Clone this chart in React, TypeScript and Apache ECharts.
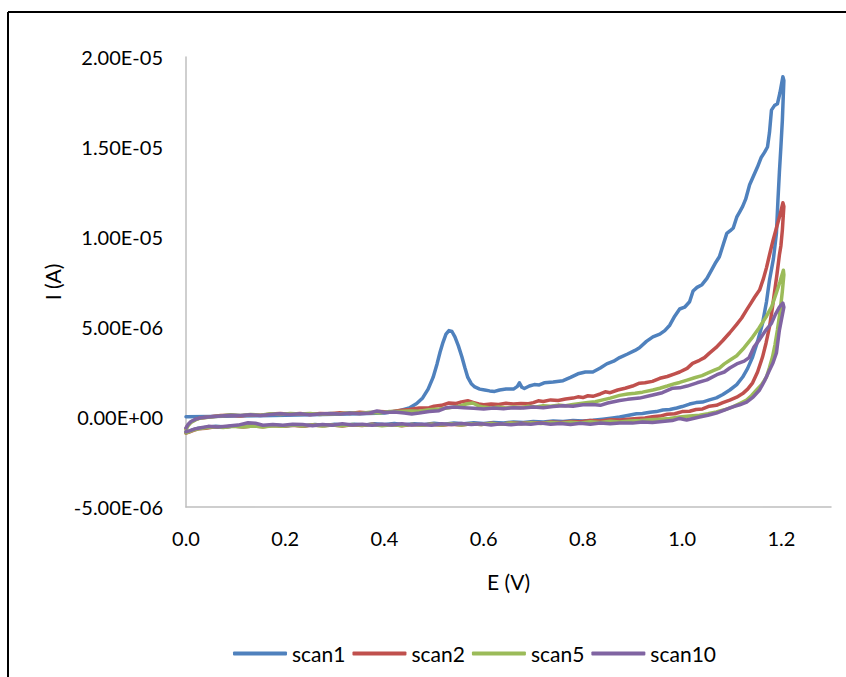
import React, { useEffect, useRef } from "react";
import * as echarts from "echarts";

// Cyclic voltammetry scans: [potential E (V), current I (µA)], forward sweep then reverse sweep.
const scan1Forward: [number, number][] = [
  [0.0, 0.02], [0.05, 0.03], [0.1, 0.05], [0.15, 0.07], [0.2, 0.1], [0.25, 0.12], [0.3, 0.15],
  [0.35, 0.18], [0.4, 0.22], [0.43, 0.35], [0.45, 0.5], [0.465, 0.75], [0.477, 1.06], [0.488, 1.55],
  [0.498, 2.2], [0.506, 2.95], [0.512, 3.6], [0.518, 4.15], [0.524, 4.6], [0.53, 4.8], [0.536, 4.75],
  [0.542, 4.45], [0.549, 3.95], [0.556, 3.35], [0.562, 2.75], [0.568, 2.2], [0.575, 1.85],
  [0.582, 1.67], [0.592, 1.55], [0.602, 1.5], [0.612, 1.45], [0.622, 1.42], [0.632, 1.5],
  [0.645, 1.55], [0.66, 1.55], [0.668, 1.7], [0.672, 1.9], [0.677, 1.65], [0.682, 1.58],
  [0.692, 1.72], [0.702, 1.8], [0.712, 1.78], [0.722, 1.9], [0.74, 1.95], [0.76, 2.02],
  [0.775, 2.2], [0.79, 2.4], [0.805, 2.5], [0.82, 2.5], [0.835, 2.72], [0.848, 2.95], [0.862, 3.1],
  [0.874, 3.3], [0.89, 3.5], [0.905, 3.7], [0.914, 3.85], [0.928, 4.2], [0.941, 4.45], [0.955, 4.6],
  [0.965, 4.8], [0.975, 5.1], [0.985, 5.6], [0.995, 6.0], [1.005, 6.1], [1.015, 6.4], [1.022, 7.0],
  [1.03, 7.2], [1.04, 7.35], [1.05, 7.7], [1.06, 8.2], [1.068, 8.6], [1.075, 8.9], [1.083, 9.6],
  [1.09, 10.2], [1.097, 10.35], [1.103, 10.5], [1.11, 11.1], [1.116, 11.4], [1.122, 11.7],
  [1.128, 12.1], [1.136, 12.9], [1.144, 13.4], [1.152, 13.9], [1.159, 14.4], [1.166, 14.7],
  [1.172, 15.0], [1.176, 15.8], [1.18, 17.05], [1.186, 17.3], [1.192, 17.4], [1.197, 18.0],
  [1.203, 18.9],
];
const scan1Reverse: [number, number][] = [
  [1.205, 18.7], [1.202, 16.5], [1.199, 15.0], [1.196, 13.6], [1.193, 12.0], [1.19, 10.2],
  [1.184, 8.8], [1.176, 7.6], [1.17, 6.4], [1.162, 5.2], [1.152, 4.2], [1.142, 3.33], [1.132, 2.7],
  [1.122, 2.22], [1.11, 1.8], [1.096, 1.5], [1.082, 1.25], [1.069, 1.06], [1.055, 0.95],
  [1.041, 0.83], [1.028, 0.8], [1.015, 0.72], [1.0, 0.58], [0.989, 0.5], [0.975, 0.42],
  [0.961, 0.39], [0.948, 0.3], [0.935, 0.26], [0.92, 0.2], [0.908, 0.18], [0.89, 0.08],
  [0.874, 0.0], [0.86, -0.05], [0.84, -0.12], [0.82, -0.18], [0.8, -0.22], [0.78, -0.2],
  [0.76, -0.25], [0.74, -0.22], [0.72, -0.28], [0.7, -0.25], [0.68, -0.3], [0.66, -0.28],
  [0.64, -0.33], [0.62, -0.3], [0.6, -0.36], [0.58, -0.32], [0.56, -0.38], [0.54, -0.33],
  [0.52, -0.4], [0.5, -0.35], [0.48, -0.42], [0.46, -0.38], [0.44, -0.43], [0.42, -0.36],
  [0.4, -0.42], [0.38, -0.38], [0.36, -0.44], [0.34, -0.4], [0.32, -0.45], [0.3, -0.4],
  [0.28, -0.47], [0.26, -0.42], [0.24, -0.48], [0.22, -0.44], [0.2, -0.5], [0.18, -0.45],
  [0.16, -0.5], [0.14, -0.47], [0.12, -0.52], [0.1, -0.48], [0.08, -0.55], [0.06, -0.52],
  [0.04, -0.58], [0.025, -0.62], [0.015, -0.7], [0.006, -0.8], [0.0, -0.85],
];

const scan2Forward: [number, number][] = [
  [0.0, -0.65], [0.004, -0.45], [0.01, -0.28], [0.02, -0.12], [0.03, -0.05], [0.05, 0.02],
  [0.07, 0.08], [0.09, 0.1], [0.11, 0.06], [0.13, 0.12], [0.15, 0.1], [0.17, 0.16], [0.19, 0.2],
  [0.21, 0.15], [0.23, 0.2], [0.25, 0.14], [0.27, 0.2], [0.29, 0.18], [0.31, 0.24], [0.33, 0.2],
  [0.35, 0.26], [0.37, 0.22], [0.39, 0.3], [0.41, 0.28], [0.43, 0.36], [0.45, 0.42], [0.47, 0.5],
  [0.49, 0.52], [0.5, 0.6], [0.515, 0.65], [0.53, 0.78], [0.545, 0.75], [0.555, 0.84],
  [0.568, 0.9], [0.58, 0.8], [0.59, 0.72], [0.6, 0.68], [0.615, 0.72], [0.63, 0.7], [0.645, 0.76],
  [0.66, 0.72], [0.675, 0.75], [0.69, 0.74], [0.7, 0.8], [0.71, 0.9], [0.72, 0.86], [0.735, 0.95],
  [0.75, 0.92], [0.765, 1.0], [0.78, 1.05], [0.79, 1.12], [0.8, 1.08], [0.81, 1.18], [0.82, 1.15],
  [0.835, 1.28], [0.845, 1.4], [0.855, 1.35], [0.87, 1.5], [0.885, 1.6], [0.9, 1.72],
  [0.914, 1.88], [0.925, 1.9], [0.94, 1.98], [0.955, 2.15], [0.97, 2.25], [0.985, 2.4],
  [0.995, 2.5], [1.01, 2.7], [1.021, 2.98], [1.035, 3.15], [1.045, 3.3], [1.055, 3.55],
  [1.068, 3.85], [1.082, 4.25], [1.096, 4.68], [1.11, 5.15], [1.12, 5.5], [1.13, 5.95],
  [1.138, 6.3], [1.146, 6.65], [1.156, 7.05], [1.164, 7.7], [1.17, 8.3], [1.176, 9.0],
  [1.183, 9.8], [1.19, 10.5], [1.197, 11.2], [1.203, 11.9],
];
const scan2Reverse: [number, number][] = [
  [1.205, 11.7], [1.202, 10.4], [1.199, 9.5], [1.196, 9.0], [1.191, 7.9], [1.186, 6.9],
  [1.181, 5.9], [1.176, 5.0], [1.169, 4.1], [1.162, 3.33], [1.152, 2.5], [1.142, 1.9],
  [1.132, 1.55], [1.122, 1.3], [1.11, 1.1], [1.096, 0.94], [1.082, 0.8], [1.069, 0.65],
  [1.055, 0.6], [1.041, 0.45], [1.028, 0.42], [1.015, 0.32], [1.0, 0.3], [0.985, 0.18],
  [0.97, 0.15], [0.955, 0.05], [0.94, 0.02], [0.925, -0.05], [0.91, -0.08], [0.89, -0.12],
  [0.874, -0.17], [0.855, -0.15], [0.835, -0.22], [0.815, -0.2], [0.795, -0.27], [0.775, -0.25],
  [0.755, -0.3], [0.735, -0.28], [0.715, -0.34], [0.695, -0.3], [0.675, -0.36], [0.655, -0.32],
  [0.635, -0.4], [0.615, -0.35], [0.595, -0.42], [0.575, -0.37], [0.555, -0.44], [0.535, -0.4],
  [0.515, -0.46], [0.495, -0.4], [0.475, -0.45], [0.455, -0.42], [0.435, -0.48], [0.415, -0.42],
  [0.395, -0.46], [0.375, -0.4], [0.355, -0.47], [0.335, -0.43], [0.315, -0.5], [0.295, -0.44],
  [0.275, -0.49], [0.255, -0.45], [0.235, -0.52], [0.215, -0.46], [0.195, -0.52], [0.175, -0.47],
  [0.155, -0.54], [0.135, -0.5], [0.115, -0.55], [0.095, -0.5], [0.075, -0.57], [0.055, -0.55],
  [0.04, -0.62], [0.025, -0.66], [0.015, -0.74], [0.006, -0.84], [0.0, -0.9],
];

const scan5Forward: [number, number][] = [
  [0.0, -0.7], [0.004, -0.5], [0.01, -0.3], [0.02, -0.15], [0.03, -0.05], [0.05, 0.0],
  [0.07, 0.05], [0.09, 0.12], [0.11, 0.08], [0.13, 0.14], [0.15, 0.1], [0.17, 0.18], [0.19, 0.14],
  [0.21, 0.2], [0.23, 0.16], [0.25, 0.2], [0.27, 0.14], [0.29, 0.2], [0.31, 0.18], [0.33, 0.24],
  [0.35, 0.2], [0.37, 0.26], [0.39, 0.22], [0.41, 0.3], [0.43, 0.3], [0.45, 0.34], [0.47, 0.32],
  [0.49, 0.4], [0.51, 0.45], [0.53, 0.52], [0.55, 0.6], [0.565, 0.72], [0.578, 0.78],
  [0.59, 0.62], [0.6, 0.55], [0.615, 0.5], [0.63, 0.55], [0.645, 0.5], [0.66, 0.56], [0.675, 0.52],
  [0.69, 0.6], [0.705, 0.56], [0.72, 0.62], [0.735, 0.6], [0.75, 0.66], [0.765, 0.63], [0.78, 0.7],
  [0.795, 0.75], [0.81, 0.8], [0.825, 0.85], [0.84, 0.95], [0.855, 1.05], [0.874, 1.2],
  [0.89, 1.28], [0.905, 1.32], [0.92, 1.38], [0.941, 1.5], [0.955, 1.6], [0.97, 1.72],
  [0.985, 1.85], [0.995, 1.92], [1.01, 2.05], [1.025, 2.18], [1.04, 2.3], [1.05, 2.42],
  [1.065, 2.6], [1.075, 2.72], [1.085, 2.95], [1.096, 3.15], [1.11, 3.4], [1.125, 3.85],
  [1.142, 4.44], [1.155, 4.95], [1.17, 5.6], [1.18, 6.1], [1.19, 6.9], [1.197, 7.5], [1.204, 8.15],
];
const scan5Reverse: [number, number][] = [
  [1.205, 7.9], [1.202, 7.0], [1.2, 6.5], [1.196, 5.6], [1.192, 4.83], [1.187, 4.0],
  [1.182, 3.33], [1.176, 2.75], [1.17, 2.22], [1.16, 1.8], [1.15, 1.5], [1.14, 1.2], [1.13, 0.94],
  [1.116, 0.75], [1.102, 0.56], [1.085, 0.4], [1.069, 0.28], [1.052, 0.18], [1.035, 0.1],
  [1.015, 0.05], [0.995, 0.0], [0.975, -0.08], [0.955, -0.12], [0.935, -0.15], [0.915, -0.2],
  [0.895, -0.22], [0.874, -0.28], [0.855, -0.24], [0.835, -0.31], [0.815, -0.27], [0.795, -0.33],
  [0.775, -0.29], [0.755, -0.35], [0.735, -0.3], [0.715, -0.36], [0.695, -0.32], [0.675, -0.38],
  [0.655, -0.33], [0.635, -0.4], [0.615, -0.36], [0.595, -0.42], [0.575, -0.38], [0.555, -0.45],
  [0.535, -0.38], [0.515, -0.44], [0.495, -0.4], [0.475, -0.46], [0.455, -0.41], [0.435, -0.47],
  [0.415, -0.43], [0.395, -0.48], [0.375, -0.42], [0.355, -0.46], [0.335, -0.42], [0.315, -0.49],
  [0.295, -0.45], [0.275, -0.5], [0.255, -0.44], [0.235, -0.5], [0.215, -0.45], [0.195, -0.51],
  [0.175, -0.48], [0.155, -0.55], [0.135, -0.5], [0.115, -0.56], [0.095, -0.52], [0.075, -0.58],
  [0.055, -0.54], [0.04, -0.6], [0.025, -0.65], [0.015, -0.72], [0.006, -0.82], [0.0, -0.88],
];

const scan10Forward: [number, number][] = [
  [0.0, -0.6], [0.004, -0.42], [0.01, -0.25], [0.02, -0.12], [0.03, -0.04], [0.05, 0.02],
  [0.07, 0.06], [0.09, 0.1], [0.11, 0.08], [0.13, 0.12], [0.15, 0.08], [0.17, 0.14], [0.19, 0.18],
  [0.21, 0.14], [0.23, 0.18], [0.25, 0.12], [0.27, 0.16], [0.29, 0.2], [0.31, 0.16], [0.33, 0.22],
  [0.35, 0.18], [0.37, 0.22], [0.385, 0.33], [0.4, 0.25], [0.42, 0.28], [0.44, 0.22],
  [0.455, 0.17], [0.47, 0.22], [0.49, 0.3], [0.51, 0.35], [0.525, 0.52], [0.54, 0.55],
  [0.56, 0.52], [0.58, 0.48], [0.6, 0.45], [0.62, 0.5], [0.64, 0.46], [0.66, 0.52], [0.68, 0.5],
  [0.7, 0.55], [0.72, 0.52], [0.74, 0.58], [0.76, 0.62], [0.78, 0.6], [0.8, 0.68], [0.82, 0.7],
  [0.835, 0.65], [0.85, 0.78], [0.874, 0.92], [0.89, 0.98], [0.914, 1.05], [0.93, 1.15],
  [0.941, 1.22], [0.96, 1.35], [0.981, 1.6], [0.995, 1.62], [1.01, 1.72], [1.03, 1.9],
  [1.05, 2.06], [1.07, 2.35], [1.085, 2.5], [1.096, 2.72], [1.11, 2.95], [1.125, 3.1],
  [1.135, 3.3], [1.145, 3.9], [1.156, 4.3], [1.168, 4.8], [1.18, 5.2], [1.188, 5.7],
  [1.196, 6.1], [1.203, 6.33],
];
const scan10Reverse: [number, number][] = [
  [1.205, 6.1], [1.2, 5.4], [1.196, 4.83], [1.19, 3.56], [1.183, 3.0], [1.176, 2.6],
  [1.166, 2.0], [1.156, 1.5], [1.143, 1.1], [1.13, 0.83], [1.116, 0.68], [1.102, 0.56],
  [1.085, 0.38], [1.069, 0.22], [1.052, 0.1], [1.035, 0.0], [1.02, -0.1], [1.009, -0.17],
  [0.995, -0.08], [0.98, -0.2], [0.96, -0.25], [0.94, -0.3], [0.92, -0.28], [0.9, -0.34],
  [0.874, -0.33], [0.855, -0.38], [0.835, -0.33], [0.815, -0.4], [0.795, -0.35], [0.775, -0.42],
  [0.755, -0.36], [0.735, -0.4], [0.715, -0.34], [0.695, -0.4], [0.675, -0.37], [0.655, -0.43],
  [0.635, -0.38], [0.615, -0.44], [0.595, -0.38], [0.575, -0.42], [0.555, -0.36], [0.535, -0.42],
  [0.515, -0.38], [0.495, -0.46], [0.475, -0.4], [0.455, -0.45], [0.435, -0.38], [0.415, -0.44],
  [0.395, -0.4], [0.375, -0.46], [0.355, -0.4], [0.335, -0.44], [0.315, -0.38], [0.295, -0.46],
  [0.275, -0.42], [0.255, -0.48], [0.235, -0.42], [0.215, -0.4], [0.195, -0.46], [0.175, -0.42],
  [0.155, -0.46], [0.14, -0.35], [0.125, -0.32], [0.105, -0.45], [0.085, -0.5], [0.065, -0.55],
  [0.045, -0.52], [0.03, -0.6], [0.018, -0.66], [0.008, -0.76], [0.0, -0.82],
];

const seriesNames = ["scan1", "scan2", "scan5", "scan10"];
const seriesColors = ["#4F81BD", "#C0504D", "#9BBB59", "#8064A2"];
const seriesPoints = [
  [...scan1Forward, ...scan1Reverse],
  [...scan2Forward, ...scan2Reverse],
  [...scan5Forward, ...scan5Reverse],
  [...scan10Forward, ...scan10Reverse],
];

const MICRO = 1e-6;
const FONT = "Lato, 'Noto Sans', sans-serif";

// Excel-style scientific format, e.g. 1.50E-05
function sci(v: number): string {
  const [m, e] = v.toExponential(2).split("e");
  const sign = e.startsWith("-") ? "-" : "+";
  const digits = e.replace(/[+-]/, "").padStart(2, "0");
  return `${m}E${sign}${digits}`;
}

export default function App() {
  const ref = useRef<HTMLDivElement>(null);

  useEffect(() => {
    if (!ref.current) return;
    const chart = echarts.init(ref.current, undefined, { renderer: "svg" });

    chart.setOption({
      animation: false,
      backgroundColor: "#FFFFFF",
      textStyle: { fontFamily: FONT },
      grid: {
        left: 186,
        top: 57,
        right: 15,
        bottom: 170,
        containLabel: false,
        outerBoundsMode: "none",
      },
      xAxis: {
        type: "value",
        min: 0,
        max: 1.3,
        interval: 0.2,
        name: "E (V)",
        nameLocation: "middle",
        nameGap: 64,
        nameTextStyle: { fontSize: 21, color: "#000", fontFamily: FONT },
        axisLine: { onZero: false, lineStyle: { color: "#BFBFBF", width: 1.5 } },
        axisTick: { show: false },
        splitLine: { show: false },
        axisLabel: {
          color: "#000",
          fontSize: 20,
          fontFamily: FONT,
          margin: 21,
          showMaxLabel: false,
          formatter: (v: number) => v.toFixed(1),
        },
      },
      yAxis: {
        type: "value",
        min: -5e-6,
        max: 2e-5,
        interval: 5e-6,
        name: "I (A)",
        nameLocation: "middle",
        nameGap: 118,
        nameTextStyle: { fontSize: 21, color: "#000", fontFamily: FONT },
        axisLine: { show: true, lineStyle: { color: "#BFBFBF", width: 1.5 } },
        axisTick: { show: false },
        splitLine: { show: false },
        axisLabel: {
          color: "#000",
          fontSize: 20,
          fontFamily: FONT,
          margin: 23,
          formatter: (v: number) => sci(v),
        },
      },
      legend: {
        left: 228,
        top: 638,
        icon: "roundRect",
        itemWidth: 54,
        itemHeight: 4,
        itemGap: 7,
        textStyle: { fontSize: 21, color: "#000", fontFamily: FONT },
        data: seriesNames,
      },
      graphic: [
        {
          type: "line",
          shape: { x1: 8, y1: 12, x2: 846, y2: 12 },
          style: { stroke: "#000", lineWidth: 2 },
        },
        {
          type: "line",
          shape: { x1: 8, y1: 12, x2: 8, y2: 677 },
          style: { stroke: "#000", lineWidth: 2 },
        },
      ],
      series: seriesNames.map((name, i) => ({
        name,
        type: "line",
        data: seriesPoints[i].map(([e, cur]) => [e, cur * MICRO]),
        showSymbol: false,
        symbol: "none",
        smooth: false,
        clip: false,
        color: seriesColors[i],
        lineStyle: { color: seriesColors[i], width: 3.5, cap: "round", join: "round" },
      })),
    });

    return () => chart.dispose();
  }, []);

  return (
    <div
      ref={ref}
      style={{ position: "absolute", left: 0, top: 0, width: 846, height: 677 }}
    />
  );
}
